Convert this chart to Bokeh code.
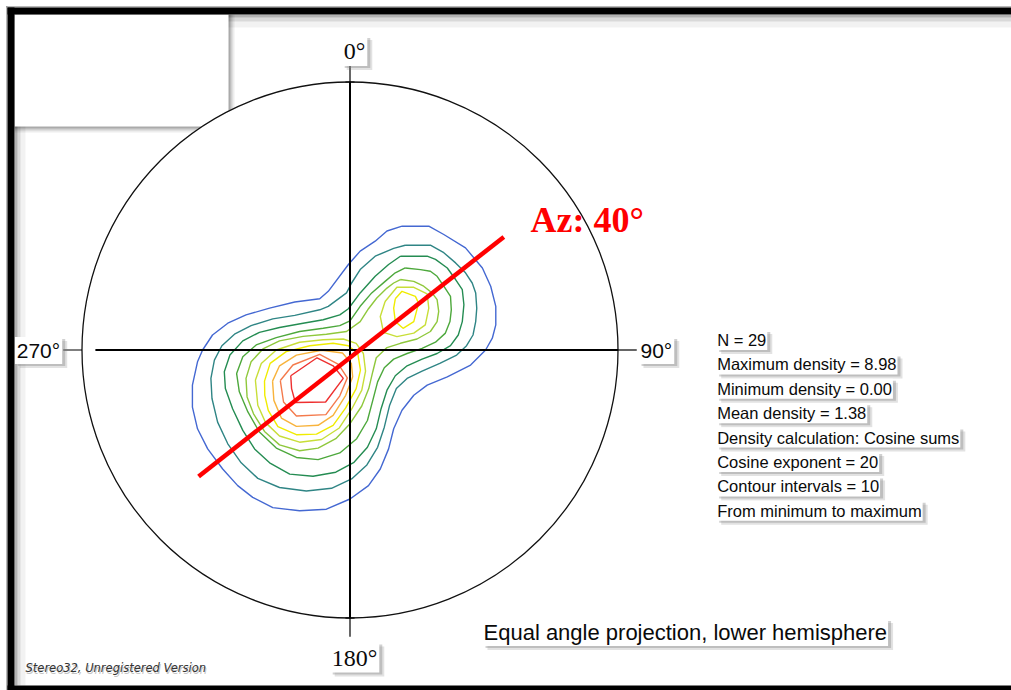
from bokeh.plotting import figure
from bokeh.models import Range1d, Label, BoxAnnotation, ColumnDataSource
from bokeh.embed import file_html
from bokeh.resources import INLINE

# ---------------- data (stereonet units, primitive circle radius = 100) ----------------
R = 100.0
cardinal_labels = ["0°", "90°", "180°", "270°"]

c1_blue = [[(19.4, 46.2), (29.4, 46.2), (35.0, 43.1), (43.1, 38.1), (49.4, 30.6), (52.5, 23.8), (54.4, 16.3),
            (54.4, 9.4), (53.1, 4.4), (50.6, 0.0), (45.0, -5.6), (36.3, -10.0), (28.8, -13.1), (23.8, -16.9),
            (19.4, -22.5), (16.3, -29.4), (14.4, -36.9), (11.3, -44.4), (6.9, -50.6), (0.0, -55.6), (-8.8, -59.4),
            (-18.8, -60.0), (-28.8, -58.8), (-36.3, -55.0), (-41.9, -50.6), (-47.5, -44.4), (-53.1, -36.9),
            (-56.9, -29.4), (-58.8, -21.3), (-58.8, -13.1), (-56.9, -4.4), (-55.0, 0.0), (-51.3, 5.6), (-45.6, 10.0),
            (-38.8, 13.1), (-30.0, 15.6), (-20.6, 17.9), (-11.3, 19.1), (-8.1, 21.9), (-0.6, 31.9), (3.8, 36.9),
            (9.4, 40.6), (13.8, 44.4)]]
c2_teal = [[(20.6, 39.1), (30.0, 39.1), (35.0, 36.3), (39.4, 32.5), (43.1, 28.8), (45.6, 25.0), (46.9, 21.3),
            (47.3, 15.6), (46.9, 10.6), (45.9, 5.6), (43.5, 1.6), (39.8, -1.9), (33.5, -5.0), (26.9, -7.9),
            (21.3, -10.6), (17.3, -14.4), (14.8, -20.6), (12.8, -28.8), (10.3, -36.3), (6.3, -42.9), (0.6, -48.1),
            (-6.9, -51.6), (-16.3, -52.6), (-26.3, -51.3), (-34.4, -47.9), (-40.6, -42.1), (-45.6, -35.0),
            (-49.4, -26.9), (-51.5, -18.1), (-51.9, -10.6), (-50.6, -3.8), (-47.8, 1.6), (-43.1, 5.9), (-36.9, 9.1),
            (-28.8, 11.6), (-20.6, 12.9), (-11.3, 15.0), (-8.1, 16.3), (-1.3, 21.3), (0.6, 25.0), (3.8, 30.0),
            (9.4, 35.0), (16.3, 37.9)]]
c3_darkgreen = [[(18.8, 35.0), (28.8, 35.0), (31.9, 33.8), (36.3, 30.6), (39.4, 26.3), (41.9, 22.5), (42.5, 16.9),
                 (41.9, 10.6), (40.4, 5.6), (37.5, 1.6), (32.5, -1.3), (26.9, -3.4), (21.3, -5.9), (16.9, -9.6),
                 (13.8, -15.0), (11.6, -21.9), (9.8, -29.4), (6.5, -36.3), (1.5, -41.9), (-5.3, -45.6),
                 (-13.8, -47.1), (-22.5, -46.3), (-30.0, -42.1), (-35.6, -36.9), (-40.0, -30.0), (-43.8, -21.9),
                 (-46.5, -14.4), (-46.9, -8.1), (-44.8, -1.9), (-40.0, 3.4), (-33.8, 6.6), (-26.3, 8.4),
                 (-17.5, 10.0), (-10.0, 11.3), (-3.8, 13.1), (-0.6, 15.4), (3.8, 21.3), (9.4, 27.5), (14.4, 31.9)]]
c4_green = [[(20.6, 30.6), (26.3, 30.0), (30.0, 29.4), (32.5, 27.5), (35.0, 23.8), (37.5, 20.0), (37.8, 15.0),
             (37.3, 10.6), (35.6, 6.3), (31.9, 2.9), (26.9, 0.6), (21.3, -1.3), (16.3, -3.4), (12.8, -6.6),
             (10.3, -11.9), (8.5, -18.8), (6.5, -26.3), (2.5, -33.1), (-3.8, -38.4), (-11.9, -40.9), (-20.0, -40.1),
             (-27.5, -36.6), (-33.8, -30.6), (-38.1, -23.1), (-41.3, -15.6), (-42.3, -8.8), (-40.0, -2.5),
             (-35.0, 1.9), (-27.5, 4.6), (-18.8, 6.9), (-10.0, 8.1), (-3.8, 9.1), (0.0, 10.9), (3.8, 16.3),
             (8.1, 21.3), (13.1, 25.6), (16.9, 28.8)]]
c5_yellowgreen = [[(18.8, 26.3), (23.8, 25.6), (27.5, 23.8), (30.6, 21.3), (32.5, 18.8), (33.1, 14.4), (32.5, 10.6),
                   (30.0, 6.9), (25.0, 4.1), (18.8, 2.5), (13.8, 0.9), (9.8, -2.9), (8.5, -8.1), (7.0, -14.4),
                   (4.4, -20.9), (0.0, -27.5), (-5.3, -33.1), (-11.9, -36.6), (-18.8, -37.6), (-26.3, -35.4),
                   (-31.9, -30.4), (-36.0, -23.8), (-38.4, -17.5), (-38.8, -10.6), (-36.9, -4.4), (-32.5, 0.4),
                   (-26.3, 3.4), (-17.5, 5.1), (-8.8, 5.9), (-1.3, 6.9), (3.8, 10.6), (6.9, 15.4), (10.0, 19.4),
                   (13.8, 23.1), (16.3, 25.0)]]
c6_lightgreen = [[(-35.3, -11.3), (-33.1, -5.0), (-27.5, 0.0), (-18.8, 2.9), (-10.0, 3.8), (-2.5, 4.1), (2.3, 2.5),
                  (5.0, -1.3), (5.8, -7.9), (4.4, -15.0), (0.6, -22.1), (-4.0, -29.1), (-10.6, -33.4),
                  (-18.8, -34.4), (-26.3, -32.1), (-31.5, -27.1), (-34.4, -20.6)],
                 [(13.1, 18.1), (17.5, 23.4), (23.8, 23.4), (28.8, 20.9), (29.4, 15.6), (28.1, 9.4), (23.8, 6.3),
                  (17.5, 5.0), (12.5, 6.6), (11.3, 12.5)]]
c7_yellow = [[(-31.9, -11.6), (-29.8, -5.0), (-23.8, -0.6), (-15.0, 1.6), (-6.3, 2.5), (-0.6, 1.6), (2.9, -1.3),
              (3.9, -7.5), (2.3, -14.4), (-1.6, -21.6), (-6.3, -28.1), (-12.5, -31.4), (-20.0, -31.6),
              (-26.9, -28.6), (-30.5, -22.5), (-31.8, -16.9)],
             [(16.9, 19.1), (19.4, 21.9), (24.4, 20.0), (25.6, 17.5), (23.8, 10.6), (19.8, 8.1), (16.9, 10.6),
              (16.3, 15.6)]]
c8_orange = [[(-28.9, -11.6), (-26.3, -5.9), (-20.0, -1.9), (-10.6, -0.1), (-2.8, -1.1), (0.5, -5.0), (1.0, -10.0),
              (-1.6, -16.9), (-6.3, -24.4), (-11.9, -28.1), (-20.0, -28.5), (-25.6, -25.4), (-28.4, -18.8)]]
c9_orangered = [[(-26.0, -11.4), (-21.3, -5.6), (-11.3, -1.6), (-4.3, -5.4), (-1.0, -10.4), (-3.8, -17.1),
                 (-9.0, -24.1), (-20.0, -24.6), (-24.8, -19.4)]]
c10_red = [[(-22.1, -9.6), (-12.3, -2.9), (-6.3, -5.9), (-2.5, -10.6), (-9.1, -19.4), (-20.4, -19.6),
            (-21.8, -14.4)]]

az_line_x = [-56.5, 57.4]
az_line_y = [-47.2, 42.2]
az_label = "Az: 40°"

info_lines = ["N = 29", "Maximum density = 8.98", "Minimum density = 0.00", "Mean density = 1.38",
              "Density calculation: Cosine sums", "Cosine exponent = 20", "Contour intervals = 10",
              "From minimum to maximum"]
projection_text = "Equal angle projection, lower hemisphere"
footer_text = "Stereo32, Unregistered Version"

# ---------------- styling ----------------
contour_sets = [c1_blue, c2_teal, c3_darkgreen, c4_green, c5_yellowgreen,
                c6_lightgreen, c7_yellow, c8_orange, c9_orangered, c10_red]
contour_colors = ["#4468d2", "#2f8585", "#248c52", "#4da83c", "#8fc83c",
                  "#c8de38", "#f0ec00", "#f8b33c", "#f47a4c", "#ee2f2f"]

W, H = 1011, 690
SC = 2.68                 # px per unit
CX, CY = 349.5, 349.5     # page position of the net centre


def px2x(px):
    return (px - CX) / SC


def py2y(py):
    return (CY - py) / SC


p = figure(width=W, height=H,
           x_range=Range1d(px2x(0), px2x(W)),
           y_range=Range1d(py2y(H), py2y(0)),
           x_axis_type=None, y_axis_type=None, title=None,
           toolbar_location=None, output_backend="svg",
           min_border_left=0, min_border_top=0, min_border_bottom=0, min_border_right=0,
           border_fill_color="white", background_fill_color="white",
           outline_line_color=None)


def band(level="underlay", **kw):
    p.add_layout(BoxAnnotation(line_color=None, level=level, **kw))


# frame inner shadows
for a, b, al in [(14, 17, 0.30), (17, 21, 0.15), (21, 27, 0.05)]:
    band(top=py2y(a), bottom=py2y(b), left=px2x(14), fill_color="black", fill_alpha=al)
for a, b, al in [(14, 17, 0.30), (17, 20, 0.15), (20, 25, 0.05)]:
    band(left=px2x(a), right=px2x(b), top=py2y(14), bottom=py2y(685), fill_color="black", fill_alpha=al)
# top-left empty panel with shadow
for r, b, al in [(234, 132, 0.07), (232, 130, 0.12), (230, 128, 0.18)]:
    band(left=px2x(14), top=py2y(14), right=px2x(r), bottom=py2y(b), fill_color="black", fill_alpha=al)
band(left=px2x(14), top=py2y(14), right=px2x(228), bottom=py2y(126), fill_color="white", fill_alpha=1.0)

# primitive circle
p.circle(x=[0], y=[0], radius=R, fill_color="white", line_color="#111111", line_width=1.3)

# contours
xs, ys, cols = [], [], []
for polys, col in zip(contour_sets, contour_colors):
    for poly in polys:
        xs.append([pt[0] for pt in poly] + [poly[0][0]])
        ys.append([pt[1] for pt in poly] + [poly[0][1]])
        cols.append(col)
p.multi_line(xs="xs", ys="ys", line_color="color", line_width=1.4,
             source=ColumnDataSource(dict(xs=xs, ys=ys, color=cols)))

# cross hairs and ticks
p.segment(x0=[-0.95 * R, 0], y0=[0, -R], x1=[R, 0], y1=[0, R], line_color="black", line_width=2)
p.segment(x0=[0, 0, -R, R], y0=[R, -R, 0, 0], x1=[0, 0, -1.07 * R, 1.07 * R], y1=[1.07 * R, -1.07 * R, 0, 0],
          line_color="black", line_width=1.2)
p.segment(x0=[-1.7, -1.7], y0=[R, -R], x1=[1.7, 1.7], y1=[R, -R], line_color="black", line_width=1.2)

# azimuth line
p.line(az_line_x, az_line_y, line_color="#ff0000", line_width=4.5)


def boxed(x, y, text, font, size, align="left", style="normal", pad=2):
    common = dict(x=x, y=y, text=text, text_font=font, text_font_size=f"{size}px",
                  text_font_style=style, text_align=align, text_baseline="middle", padding=pad)
    p.add_layout(Label(**common, x_offset=5, y_offset=-4, text_alpha=0.01, text_color="#7a7a7a",
                       background_fill_color="#7a7a7a", background_fill_alpha=0.22))
    p.add_layout(Label(**common, x_offset=3, y_offset=-2, text_alpha=0.01, text_color="#7a7a7a",
                       background_fill_color="#7a7a7a", background_fill_alpha=0.35))
    p.add_layout(Label(**common, text_color="#0a0a0a", background_fill_color="white",
                       background_fill_alpha=1.0))


boxed(px2x(354), py2y(50.5), cardinal_labels[0], "Liberation Serif", 24, align="center")
boxed(px2x(638), py2y(350), cardinal_labels[1], "Liberation Sans", 21, align="left")
boxed(px2x(354), py2y(657), cardinal_labels[2], "Liberation Serif", 24, align="center")
boxed(px2x(61.7), py2y(350), cardinal_labels[3], "Liberation Sans", 21, align="right")

for i, t in enumerate(info_lines):
    boxed(px2x(715.7), py2y(339.5 + 24.4 * i), t, "Liberation Sans", 16.5, pad=1)

boxed(px2x(482), py2y(632), projection_text, "Liberation Sans", 22, pad=1)

p.add_layout(Label(x=px2x(530), y=py2y(219.5), text=az_label, text_font="Liberation Serif",
                   text_font_size="36px", text_font_style="bold", text_color="#ff0000",
                   text_baseline="middle"))

p.add_layout(Label(x=px2x(25), y=py2y(667), x_offset=1, y_offset=-2, text=footer_text,
                   text_font="DejaVu Sans", text_font_size="11.5px", text_font_style="italic",
                   text_color="#888888", text_alpha=0.5, text_baseline="middle"))
p.add_layout(Label(x=px2x(25), y=py2y(667), text=footer_text, text_font="DejaVu Sans",
                   text_font_size="11.5px", text_font_style="italic", text_color="#333333",
                   text_baseline="middle"))

# black picture frame (open on the right) with a thin grey rim outside
band(level="overlay", left=px2x(5.5), right=px2x(7), top=py2y(5.5), fill_color="#888888", fill_alpha=0.6)
band(level="overlay", left=px2x(5.5), top=py2y(5.5), bottom=py2y(7), fill_color="#888888", fill_alpha=0.6)
band(level="overlay", left=px2x(7), right=px2x(14), top=py2y(7), fill_color="black", fill_alpha=1.0)
band(level="overlay", left=px2x(7), top=py2y(7), bottom=py2y(14), fill_color="black", fill_alpha=1.0)
band(level="overlay", left=px2x(7), top=py2y(685), fill_color="black", fill_alpha=1.0)

open("out.html", "w").write(file_html(p, INLINE))
